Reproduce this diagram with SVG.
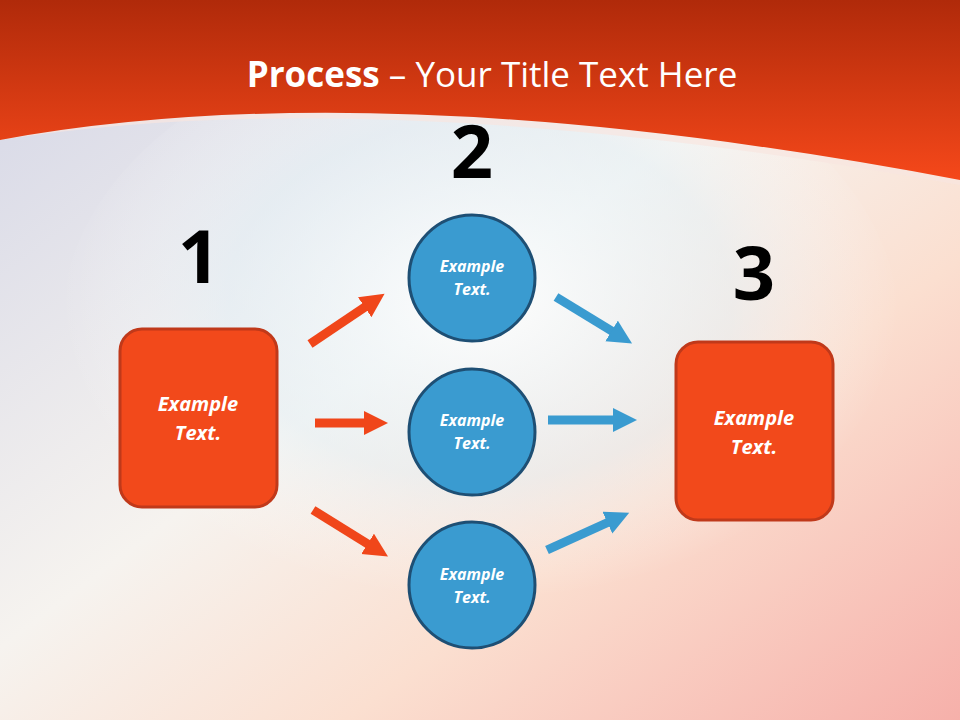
<svg xmlns="http://www.w3.org/2000/svg" width="960" height="720" viewBox="0 0 960 720">
<defs>
<linearGradient id="bg" x1="0" y1="0" x2="1" y2="1">
<stop offset="0" stop-color="#d3d5e6"/><stop offset="0.45" stop-color="#f6f3ef"/><stop offset="0.68" stop-color="#fbdfd0"/><stop offset="1" stop-color="#f6b0aa"/>
</linearGradient>
<radialGradient id="glow" cx="0.5" cy="0.45" r="0.5">
<stop offset="0" stop-color="#ffffff" stop-opacity="0.9"/><stop offset="0.6" stop-color="#e3f1f8" stop-opacity="0.5"/><stop offset="1" stop-color="#ffffff" stop-opacity="0"/>
</radialGradient>
<linearGradient id="ban" x1="0" y1="0" x2="0" y2="1">
<stop offset="0" stop-color="#b02a0a"/><stop offset="1" stop-color="#f5481a"/>
</linearGradient>
<marker id="ho" markerUnits="userSpaceOnUse" markerWidth="30" markerHeight="30" refX="4" refY="12" orient="auto"><path d="M0,0 L24,12 L0,24 Z" fill="#f0461a"/></marker>
<marker id="hb" markerUnits="userSpaceOnUse" markerWidth="30" markerHeight="30" refX="4" refY="12" orient="auto"><path d="M0,0 L24,12 L0,24 Z" fill="#3a9bd0"/></marker>
<style>
.ao{stroke:#f0461a;stroke-width:9;marker-end:url(#ho)}
.ab{stroke:#3a9bd0;stroke-width:9;marker-end:url(#hb)}
.box{fill:#f2491b;stroke:#c0391a;stroke-width:3}
.cir{fill:#3a9bd0;stroke:#1e4f74;stroke-width:3}
.lbl{font-family:"Open Sans","Liberation Sans",sans-serif;font-weight:bold;font-style:italic;fill:#fff;text-anchor:middle}
.num{font-family:"Open Sans","Liberation Sans",sans-serif;font-weight:bold;font-size:74px;fill:#000;text-anchor:middle}
</style>
</defs>
<rect width="960" height="720" fill="url(#bg)"/>
<ellipse cx="480" cy="330" rx="420" ry="300" fill="url(#glow)"/>
<path d="M0,140 Q380,80 960,185 L960,0 L0,0 Z" fill="#f8e6e0" opacity="0.7"/>
<path d="M0,140 Q380,70 960,180 L960,0 L0,0 Z" fill="url(#ban)"/>
<text x="492" y="87" font-family="'Open Sans','Liberation Sans',sans-serif" font-size="35" fill="#fff" text-anchor="middle"><tspan font-weight="bold">Process</tspan> – Your Title Text Here</text>
<g id="connectors">
<line class="ao" x1="310" y1="344" x2="368" y2="305"/>
<line class="ao" x1="315" y1="423" x2="368" y2="423"/>
<line class="ao" x1="313" y1="510" x2="371" y2="546"/>
<line class="ab" x1="556" y1="297" x2="615" y2="333"/>
<line class="ab" x1="548" y1="420" x2="617" y2="420"/>
<line class="ab" x1="547" y1="550" x2="611" y2="521"/>
</g>
<g id="n1"><rect class="box" x="120" y="329" width="157" height="178" rx="22"/><text class="lbl" font-size="20" x="198" y="411">Example</text><text class="lbl" font-size="20" x="198" y="440">Text.</text></g>
<g id="n2a"><circle class="cir" cx="472" cy="278" r="63"/><text class="lbl" font-size="16" x="472" y="272">Example</text><text class="lbl" font-size="16" x="472" y="295">Text.</text></g>
<g id="n2b"><circle class="cir" cx="472" cy="432" r="63"/><text class="lbl" font-size="16" x="472" y="426">Example</text><text class="lbl" font-size="16" x="472" y="449">Text.</text></g>
<g id="n2c"><circle class="cir" cx="472" cy="585" r="63"/><text class="lbl" font-size="16" x="472" y="580">Example</text><text class="lbl" font-size="16" x="472" y="603">Text.</text></g>
<g id="n3"><rect class="box" x="676" y="342" width="157" height="178" rx="22"/><text class="lbl" font-size="20" x="754" y="425">Example</text><text class="lbl" font-size="20" x="754" y="454">Text.</text></g>
<g id="nums"><text class="num" x="199" y="283">1</text><text class="num" x="472" y="178">2</text><text class="num" x="754" y="300">3</text></g>
</svg>
